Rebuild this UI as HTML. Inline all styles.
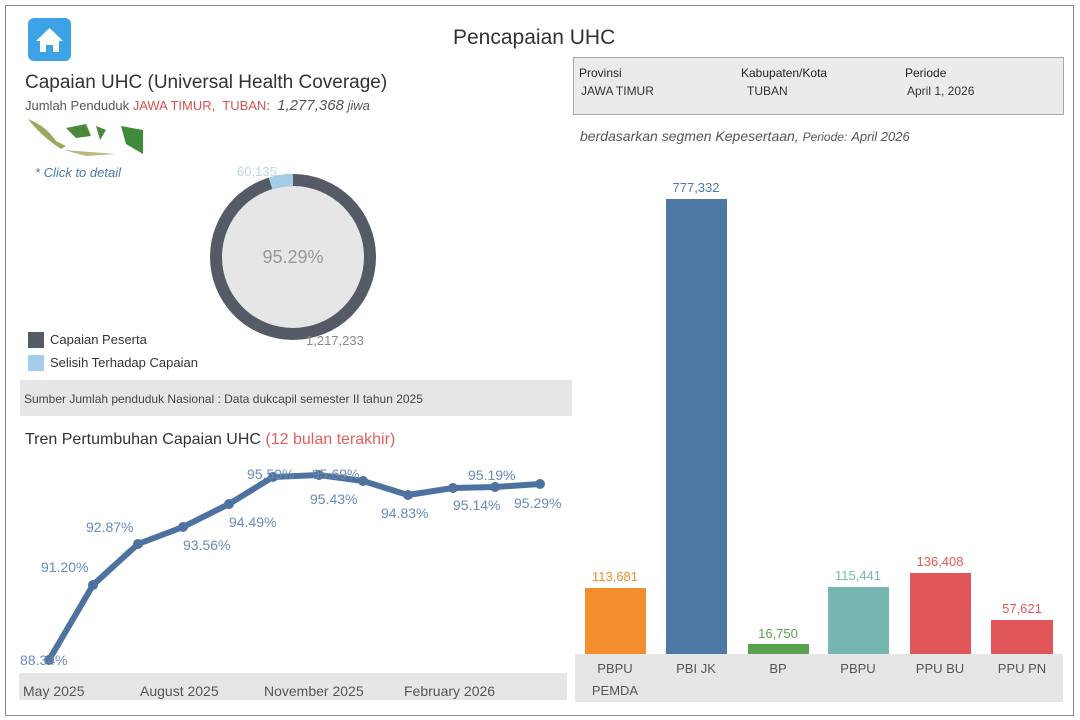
<!DOCTYPE html>
<html><head><meta charset="utf-8"><style>
body{margin:0;width:1080px;height:720px;background:#fff;font-family:"Liberation Sans","DejaVu Sans",sans-serif;overflow:hidden;position:relative}
.a{position:absolute;white-space:nowrap}
</style></head><body>
<div class="a" style="left:5px;top:5px;width:1067px;height:709px;border:1px solid #888"></div>
<div class="a" style="left:28px;top:18px;width:43px;height:43px;background:#3ea3e6;border-radius:6px"></div>
<svg class="a" style="left:28px;top:18px" width="43" height="43"><path d="M8 23 L21.5 10 L35 23 L31 23 L31 34 L25 34 L25 27 L18 27 L18 34 L12 34 L12 23 Z" fill="#fff"/></svg>
<div class="a" style="left:453px;top:26px;font-size:21px;color:#333">Pencapaian UHC</div>
<div class="a" style="left:25px;top:72px;font-size:19px;color:#333">Capaian UHC (Universal Health Coverage)</div>
<div class="a" style="left:25px;top:97px;font-size:13px;color:#555">Jumlah Penduduk <span style="color:#d9534f">JAWA TIMUR,&nbsp; TUBAN</span>: &nbsp;<i style="font-size:15px">1,277,368</i> <i>jiwa</i></div>
<svg class="a" style="left:26px;top:116px" width="120" height="42"><path d="M2 3 Q20 10 30 25 L40 30 L35 33 Q15 20 2 3Z" fill="#9aa860"/><path d="M40 12 L60 8 L65 20 L50 22Z" fill="#4a8a3a"/><path d="M70 10 L80 14 L74 24Z" fill="#4a8a3a"/><path d="M95 10 L117 14 L117 38 L100 28Z" fill="#3c8a3a"/><path d="M38 34 L90 38 L60 40Z" fill="#b8b880"/></svg>
<div class="a" style="left:35px;top:165px;font-size:13px;color:#4e79a7;font-style:italic">* Click to detail</div>
<svg class="a" style="left:200px;top:165px" width="190" height="190">
<circle cx="93" cy="92" r="77" fill="#e6e6e6"/>
<circle cx="93" cy="92" r="77" fill="none" stroke="#555b66" stroke-width="12"/>
<path d="M93 15 A77 77 0 0 0 70.5 18.4" fill="none" stroke="#a5cde8" stroke-width="12"/>
<text x="93" y="98" text-anchor="middle" font-size="18" fill="#999" font-family="Liberation Sans">95.29%</text>
</svg>
<div class="a" style="left:237px;top:164px;font-size:13px;color:#bcd7ea">60,135</div>
<div class="a" style="left:306px;top:333px;font-size:13px;color:#888">1,217,233</div>
<div class="a" style="left:28px;top:332px;width:16px;height:16px;background:#555b66"></div>
<div class="a" style="left:50px;top:332px;font-size:13px;color:#333">Capaian Peserta</div>
<div class="a" style="left:28px;top:355px;width:16px;height:16px;background:#a5cde8"></div>
<div class="a" style="left:50px;top:355px;font-size:13px;color:#333">Selisih Terhadap Capaian</div>
<div class="a" style="left:20px;top:380px;width:552px;height:36px;background:#e6e6e6"></div>
<div class="a" style="left:24px;top:392px;font-size:12px;color:#444">Sumber Jumlah penduduk Nasional : Data dukcapil semester II tahun 2025</div>
<div class="a" style="left:25px;top:431px;font-size:16px;color:#333">Tren Pertumbuhan Capaian UHC <span style="color:#e06060">(12 bulan terakhir)</span></div>
<svg class="a" style="left:0;top:0" width="580" height="720">
<rect x="19" y="673" width="548" height="27" fill="#e6e6e6"/>
<polyline points="49,660 93,585 138,544 183,527 229,504 273,477 319,475 363,481 408,495 453,488 495,487 540,484" fill="none" stroke="#4e72a0" stroke-width="6" stroke-linejoin="round" stroke-linecap="round"/>
<g fill="#4e72a0"><circle cx="49" cy="660" r="5"/><circle cx="93" cy="585" r="5"/><circle cx="138" cy="544" r="5"/><circle cx="183" cy="527" r="5"/><circle cx="229" cy="504" r="5"/><circle cx="273" cy="477" r="5"/><circle cx="319" cy="475" r="5"/><circle cx="363" cy="481" r="5"/><circle cx="408" cy="495" r="5"/><circle cx="453" cy="488" r="5"/><circle cx="495" cy="487" r="5"/><circle cx="540" cy="484" r="5"/></g>
<g font-size="14" fill="#6a8bb5" font-family="Liberation Sans">
<text x="20" y="665">88.34%</text><text x="41" y="572">91.20%</text><text x="86" y="532">92.87%</text><text x="183" y="550">93.56%</text><text x="229" y="527">94.49%</text><text x="247" y="479">95.59%</text><text x="312" y="479">95.69%</text><text x="310" y="504">95.43%</text><text x="381" y="518">94.83%</text><text x="453" y="510">95.14%</text><text x="468" y="480">95.19%</text><text x="514" y="508">95.29%</text>
</g>
<g font-size="14" fill="#555" font-family="Liberation Sans"><text x="23" y="696">May 2025</text><text x="140" y="696">August 2025</text><text x="264" y="696">November 2025</text><text x="404" y="696">February 2026</text></g>
</svg>
<div class="a" style="left:573px;top:57px;width:489px;height:56px;background:#ebebeb;border:1px solid #aaa"></div>
<div class="a" style="left:579px;top:66px;font-size:12px;color:#222">Provinsi</div>
<div class="a" style="left:741px;top:66px;font-size:12px;color:#222">Kabupaten/Kota</div>
<div class="a" style="left:905px;top:66px;font-size:12px;color:#222">Periode</div>
<div class="a" style="left:581px;top:84px;font-size:12px;color:#333">JAWA TIMUR</div>
<div class="a" style="left:747px;top:84px;font-size:12px;color:#333">TUBAN</div>
<div class="a" style="left:907px;top:84px;font-size:12px;color:#333">April 1, 2026</div>
<div class="a" style="left:580px;top:128px;font-size:14px;color:#555;font-style:italic">berdasarkan segmen Kepesertaan, <span style="font-size:12px">Periode:</span> <span style="font-size:13px">April 2026</span></div>
<svg class="a" style="left:0;top:0" width="1080" height="720">
<rect x="575" y="654" width="488" height="48" fill="#e6e6e6"/>
<rect x="585" y="588" width="61" height="66" fill="#f28e2b"/>
<rect x="666" y="199" width="61" height="455" fill="#4e79a7"/>
<rect x="748" y="644" width="61" height="10" fill="#59a14f"/>
<rect x="828" y="587" width="61" height="67" fill="#76b7b2"/>
<rect x="910" y="573" width="61" height="81" fill="#e15759"/>
<rect x="991" y="620" width="62" height="34" fill="#e15759"/>
<g font-size="13" text-anchor="middle" font-family="Liberation Sans">
<text x="615" y="581" fill="#f28e2b">113,681</text><text x="696" y="192" fill="#4e79a7">777,332</text><text x="778" y="638" fill="#59a14f">16,750</text><text x="858" y="580" fill="#76b7b2">115,441</text><text x="940" y="566" fill="#e15759">136,408</text><text x="1022" y="613" fill="#e15759">57,621</text>
</g>
<g font-size="13" text-anchor="middle" fill="#555" font-family="Liberation Sans">
<text x="615" y="673">PBPU</text><text x="615" y="695">PEMDA</text><text x="696" y="673">PBI JK</text><text x="778" y="673">BP</text><text x="858" y="673">PBPU</text><text x="940" y="673">PPU BU</text><text x="1022" y="673">PPU PN</text>
</g>
</svg>
</body></html>
